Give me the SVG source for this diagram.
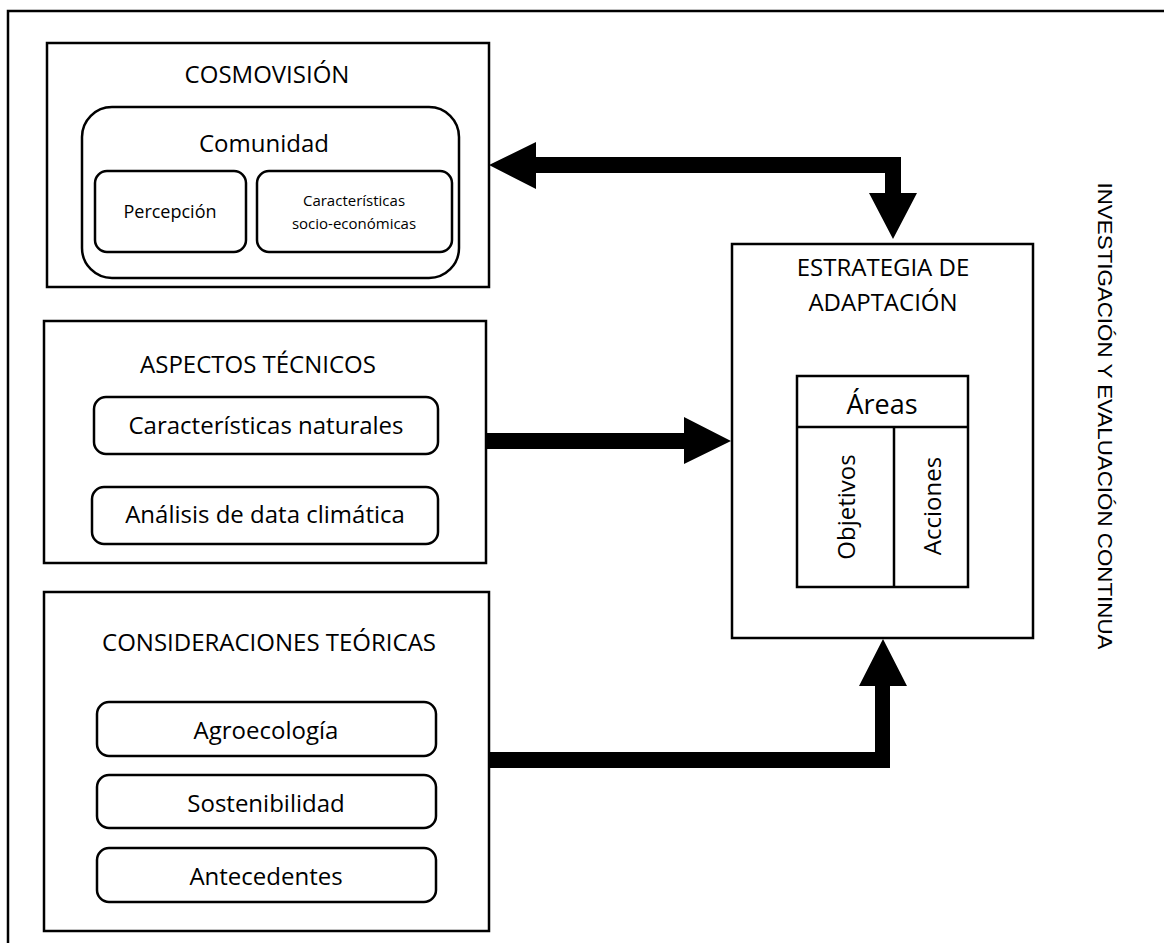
<svg xmlns="http://www.w3.org/2000/svg" width="1164" height="943" viewBox="0 0 1164 943">
<style>
.box{fill:#fff;stroke:#000;stroke-width:2.5}
.rbox{fill:#fff;stroke:#000;stroke-width:2.5}
.t{font-family:"Open Sans","Noto Sans",sans-serif;fill:#000;text-anchor:middle}
.t24{font-size:24px}
.arrow{fill:#000;stroke:none}
</style>
<rect width="1164" height="943" fill="#fff"/>
<rect id="frame" x="8" y="11" width="1220" height="1000" fill="none" stroke="#000" stroke-width="2.5"/>

<g id="cosmovision">
<rect class="box" x="47" y="43" width="442" height="244"/>
<text class="t t24" x="267" y="83">COSMOVISIÓN</text>
<rect class="rbox" x="82" y="107" width="377" height="171" rx="30"/>
<text class="t t24" x="264" y="152">Comunidad</text>
<g id="percepcion">
<rect class="rbox" x="95" y="171" width="151" height="81" rx="12"/>
<text class="t" font-size="18" x="170" y="218">Percepción</text>
</g>
<g id="socioeconomicas">
<rect class="rbox" x="257" y="171" width="195" height="81" rx="12"/>
<text class="t" font-size="15" x="354" y="206">Características</text>
<text class="t" font-size="15" x="354" y="229">socio-económicas</text>
</g>
</g>

<g id="aspectos">
<rect class="box" x="44" y="321" width="442" height="242"/>
<text class="t t24" x="258" y="373">ASPECTOS TÉCNICOS</text>
<rect class="rbox" x="94" y="397" width="344" height="57" rx="12"/>
<text class="t t24" x="266" y="434">Características naturales</text>
<rect class="rbox" x="92" y="487" width="346" height="57" rx="12"/>
<text class="t t24" x="265" y="523">Análisis de data climática</text>
</g>

<g id="consideraciones">
<rect class="box" x="44" y="592" width="445" height="339"/>
<text class="t t24" x="269" y="651">CONSIDERACIONES TEÓRICAS</text>
<rect class="rbox" x="97" y="702" width="339" height="54" rx="12"/>
<text class="t t24" x="266" y="739">Agroecología</text>
<rect class="rbox" x="97" y="775" width="339" height="53" rx="12"/>
<text class="t t24" x="266" y="812">Sostenibilidad</text>
<rect class="rbox" x="97" y="848" width="339" height="54" rx="12"/>
<text class="t t24" x="266" y="885">Antecedentes</text>
</g>

<g id="estrategia">
<rect class="box" x="732" y="244" width="301" height="394"/>
<text class="t t24" x="883" y="276">ESTRATEGIA DE</text>
<text class="t t24" x="883" y="311">ADAPTACIÓN</text>
<g id="areas">
<rect class="box" x="797" y="376" width="171" height="211"/>
<line x1="797" y1="427" x2="968" y2="427" stroke="#000" stroke-width="2.5"/>
<line x1="894" y1="427" x2="894" y2="587" stroke="#000" stroke-width="2.5"/>
<text class="t" font-size="27" x="882" y="414">Áreas</text>
<text class="t t24" transform="translate(855,507) rotate(-90)">Objetivos</text>
<text class="t t24" transform="translate(941,506) rotate(-90)">Acciones</text>
</g>
</g>

<g id="connectors">
<polygon class="arrow" points="489,165 536,142 536,157 901,157 901,193 917,193 893,239 869,193 885,193 885,173 536,173 536,189"/>
<polygon class="arrow" points="486,433 684,433 684,417 731,441 684,464 684,449 486,449"/>
<polygon class="arrow" points="488,752 875,752 875,686 859,686 883,639 907,686 890,686 890,768 488,768"/>
</g>

<g id="label-investigacion">
<text font-family="Liberation Sans, Arial, sans-serif" font-size="20" text-anchor="middle" textLength="467" lengthAdjust="spacingAndGlyphs" transform="translate(1098,416) rotate(90)">INVESTIGACIÓN Y EVALUACIÓN CONTINUA</text>
</g>
</svg>
